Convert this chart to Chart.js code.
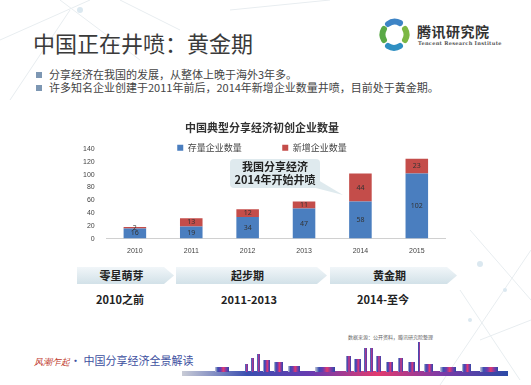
<!DOCTYPE html>
<html>
<head>
<meta charset="utf-8">
<script src="https://cdn.jsdelivr.net/npm/chart.js@4"></script>
<style>
  html, body { margin: 0; padding: 0; }
  body { width: 531px; height: 385px; position: relative; overflow: hidden; background: #fff;
         font-family: "Noto Sans CJK SC", "Noto Sans", sans-serif; color: #333; }
  .abs { position: absolute; white-space: nowrap; }
  #bg { position: absolute; left: 0; top: 0; }
  #title { left: 33px; top: 26px; font-size: 22px; color: #3a3a3a; }
  .bullet { left: 36px; font-size: 11px; color: #444; line-height: 13px; }
  .bullet:before { content: ""; display: inline-block; width: 6px; height: 6px; background: #7d97b3; margin-right: 7px; vertical-align: 1px; }
  #logoText { left: 417px; top: 21px; font-size: 14px; font-weight: bold; color: #333; letter-spacing: 0.5px; }
  #logoSub { left: 418px; top: 40px; font-size: 5px; font-family: "DejaVu Serif", serif; font-weight: bold; color: #555; letter-spacing: 0.3px; }
  #chartBox { position: absolute; left: 76px; top: 118px; width: 384px; height: 137px; }
  #callout { left: 230px; top: 159px; width: 90px; height: 28px; background: #dfeaee; border-radius: 4px;
             font-size: 11px; font-weight: bold; color: #222; text-align: center; line-height: 13px; padding-top: 1px; }
  .chev { position: absolute; top: 267px; height: 17px; background: linear-gradient(#f1f6f9, #d2e1e8);
          font-size: 11px; font-weight: bold; color: #222; text-align: center; line-height: 17px; text-indent: -8px;
          clip-path: polygon(0 0, calc(100% - 10px) 0, 100% 50%, calc(100% - 10px) 100%, 0 100%); }
  .period { top: 291px; font-size: 11px; font-weight: bold; color: #222; }
  #source { left: 348px; top: 333px; font-size: 5px; color: #666; }
  #banner { left: 34px; top: 352px; font-size: 11px; color: #3d4fa0; }
  #banner b { color: #c0392b; font-style: italic; font-family: "DejaVu Serif", serif; font-weight: normal; font-size: 9px; }
</style>
</head>
<body>
<svg id="bg" width="531" height="385">
  <g stroke="#e8edf0" stroke-width="1" fill="none">
    <line x1="0" y1="40" x2="90" y2="0"/>
    <line x1="10" y1="100" x2="70" y2="10"/>
    <line x1="60" y1="0" x2="140" y2="60"/>
    <line x1="120" y1="0" x2="180" y2="30"/>
    <line x1="230" y1="10" x2="330" y2="0"/>
    <line x1="470" y1="230" x2="531" y2="300"/>
    <line x1="440" y1="385" x2="531" y2="250"/>
    <line x1="480" y1="340" x2="531" y2="320"/>
    <line x1="460" y1="290" x2="520" y2="380"/>
  </g>
  <g fill="#dbe8f0">
    <circle cx="480" cy="264" r="3"/>
    <circle cx="505" cy="290" r="2"/>
    <circle cx="470" cy="320" r="2"/>
    <circle cx="80" cy="10" r="3"/>
  </g>
  <!-- logo ring -->
  <g fill="none" stroke-width="6" stroke-linecap="round">
    <path d="M388 24 A11 11 0 0 1 400 23" stroke="#3d84c6"/>
    <path d="M405 29 A11 11 0 0 1 405 40" stroke="#7cb743"/>
    <path d="M400 46 A11 11 0 0 1 388 46" stroke="#2f8fc2"/>
    <path d="M384 40 A11 11 0 0 1 384 29" stroke="#5aa947"/>
  </g>
  <!-- callout tail -->
  <polygon points="308,186 318,180 343,195" fill="#dfeaee"/>
  <!-- skyline -->
  <defs>
    <linearGradient id="sky" x1="0" x2="1" y1="0" y2="0">
      <stop offset="0" stop-color="#c9ccd6"/>
      <stop offset="0.2" stop-color="#3b4fb0"/>
      <stop offset="0.4" stop-color="#6a3bb0"/>
      <stop offset="0.6" stop-color="#e23a6e"/>
      <stop offset="0.8" stop-color="#7a3aa8"/>
      <stop offset="1" stop-color="#2c4aa6"/>
    </linearGradient>
  </defs>
  <g fill="url(#sky)">
    <rect x="182" y="371" width="326" height="5"/>
    <rect x="215" y="367" width="14" height="5"/>
    <rect x="245" y="364" width="3" height="8"/>
    <rect x="251" y="358" width="3" height="14"/>
    <rect x="257" y="354" width="3" height="18"/>
    <rect x="263" y="360" width="7" height="12"/>
    <rect x="274" y="362" width="9" height="10"/>
    <rect x="288" y="366" width="12" height="6"/>
    <rect x="315" y="367" width="20" height="5"/>
    <rect x="346" y="356" width="5" height="16"/>
    <rect x="354" y="359" width="7" height="13"/>
    <rect x="364" y="348" width="3" height="24"/>
    <rect x="370" y="348" width="3" height="24"/>
    <rect x="376" y="356" width="5" height="16"/>
    <rect x="386" y="362" width="7" height="10"/>
    <rect x="398" y="358" width="5" height="14"/>
    <rect x="408" y="362" width="7" height="10"/>
    <rect x="418" y="342" width="2" height="30"/>
    <rect x="424" y="364" width="9" height="8"/>
    <rect x="440" y="367" width="16" height="5"/>
    <rect x="462" y="364" width="9" height="8"/>
    <rect x="480" y="367" width="18" height="5"/>
  </g>
</svg>

<div class="abs" id="title">中国正在井喷：黄金期</div>
<div class="abs" id="logoText">腾讯研究院</div>
<div class="abs" id="logoSub">Tencent Research Institute</div>
<div class="abs bullet" style="top:68px">分享经济在我国的发展，从整体上晚于海外3年多。</div>
<div class="abs bullet" style="top:81px">许多知名企业创建于2011年前后，2014年新增企业数量井喷，目前处于黄金期。</div>

<div id="chartBox"><canvas id="myChart"></canvas></div>
<div class="abs" id="callout">我国分享经济<br>2014年开始井喷</div>

<div class="chev" style="left:77px;width:97px">零星萌芽</div>
<div class="chev" style="left:176px;width:151px">起步期</div>
<div class="chev" style="left:330px;width:127px">黄金期</div>
<div class="abs period" style="left:96px">2010之前</div>
<div class="abs period" style="left:221px">2011-2013</div>
<div class="abs period" style="left:357px">2014-至今</div>

<div class="abs" id="source">数据来源：公开资料，腾讯研究院整理</div>
<div class="abs" id="banner"><b>风潮乍起</b>· 中国分享经济全景解读</div>

<script>
// chart data
const years = ['2010', '2011', '2012', '2013', '2014', '2015'];
const stockCount = [16, 19, 34, 47, 58, 102];   // 存量企业数量
const newCount = [2, 13, 12, 11, 44, 23];       // 新增企业数量
const yTicks = [0, 20, 40, 60, 80, 100, 120, 140];

// writes each value in the middle of its bar segment
const barLabels = {
    id: 'barLabels',
    afterDatasetsDraw(chart) {
        const ctx = chart.ctx;
        ctx.save();
        ctx.font = '7px "Noto Sans", sans-serif';
        ctx.fillStyle = '#333';
        ctx.textAlign = 'center';
        ctx.textBaseline = 'middle';
        chart.data.datasets.forEach((ds, i) => {
            chart.getDatasetMeta(i).data.forEach((bar, j) => {
                const mid = (bar.y + bar.base) / 2;
                ctx.fillText(ds.data[j], bar.x, mid);
            });
        });
        ctx.restore();
    }
};

// legend sits on the same row as the top tick, like in the original
const legendUp = {
    id: 'legendUp',
    beforeDraw(chart) {
        const lg = chart.legend;
        const h = lg.bottom - lg.top;
        lg.top = chart.chartArea.top - 6;
        lg.bottom = lg.top + h;
    }
};

var myChart = new Chart(document.getElementById('myChart'), {
    type: 'bar',
    data: {
        labels: years,
        datasets: [{
            label: '存量企业数量',
            data: stockCount,
            backgroundColor: '#4a7ebf'
        },
        {
            label: '新增企业数量',
            data: newCount,
            backgroundColor: '#c44d4a'
        }]
    },
    options: {
        responsive: true,
        maintainAspectRatio: false,
        animation: false,
        layout: { padding: { left: 3, right: 15, top: 0, bottom: 0 } },
        datasets: { bar: { categoryPercentage: 1, barPercentage: 0.4 } },
        plugins: {
            title: {
                display: true,
                text: '中国典型分享经济初创企业数量',
                color: '#333',
                font: { size: 11, weight: 'bold', family: '"Noto Sans CJK SC"' },
                padding: { top: 3, bottom: -4 }
            },
            legend: {
                position: 'top',
                labels: {
                    boxWidth: 6, boxHeight: 6, padding: 0,
                    color: '#444',
                    font: { size: 9, family: '"Noto Sans CJK SC"' },
                    // wide gap between the two entries
                    generateLabels: chart => Chart.defaults.plugins.legend.labels.generateLabels(chart)
                        .map((item, i) => Object.assign(item, { text: item.text + (i === 0 ? '\u3000\u3000\u3000\u3000\u2002' : '') }))
                }
            },
            tooltip: { enabled: false }
        },
        scales: {
            x: {
                stacked: true,
                grid: { display: false },
                border: { color: '#d0d0d0' },
                ticks: { color: '#444', font: { size: 7 }, padding: 0 }
            },
            y: {
                stacked: true,
                min: yTicks[0],
                max: yTicks[yTicks.length - 1],
                grid: { display: false },
                border: { display: false },
                afterBuildTicks: axis => { axis.ticks = yTicks.map(v => ({ value: v })); },
                ticks: { color: '#444', font: { size: 7 }, padding: 4, autoSkip: false }
            }
        }
    },
    plugins: [barLabels, legendUp]
});
</script>
</body>
</html>
